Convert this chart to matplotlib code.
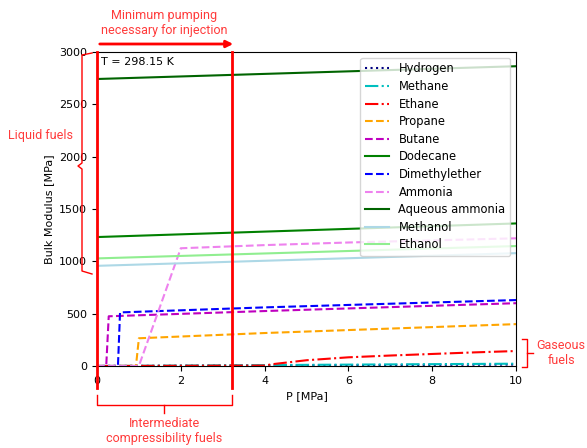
import matplotlib
matplotlib.use('Agg')
import matplotlib.pyplot as plt
from matplotlib.lines import Line2D
from matplotlib.patches import FancyArrowPatch

# Bulk modulus [MPa] vs pressure [MPa] at T = 298.15 K
p_hydrogen = [0, 10]
k_hydrogen = [0, 14]
p_methane = [0, 10]
k_methane = [0, 22]
p_ethane = [0, 4.0, 4.2, 5, 6, 7, 8, 9, 10]
k_ethane = [0, 4, 18, 55, 83, 100, 115, 130, 143]
p_propane = [0, 0.93, 1.0, 4, 10]
k_propane = [0, 1, 265, 315, 400]
p_butane = [0, 0.22, 0.28, 4, 10]
k_butane = [0, 0.3, 475, 525, 600]
p_dodecane = [0, 10]
k_dodecane = [1232, 1362]
p_dme = [0, 0.5, 0.55, 4, 10]
k_dme = [0, 0.5, 512, 560, 630]
p_ammonia = [0, 1.0, 2.0, 4, 6, 8, 10]
k_ammonia = [0, 1, 1125, 1155, 1180, 1200, 1220]
p_aq_ammonia = [0, 10]
k_aq_ammonia = [2742, 2864]
p_methanol = [0, 10]
k_methanol = [957, 1078]
p_ethanol = [0, 10]
k_ethanol = [1028, 1146]

series = [
    ('Hydrogen', p_hydrogen, k_hydrogen, 'navy', ':'),
    ('Methane', p_methane, k_methane, 'c', '-.'),
    ('Ethane', p_ethane, k_ethane, 'r', '-.'),
    ('Propane', p_propane, k_propane, 'orange', '--'),
    ('Butane', p_butane, k_butane, 'm', '--'),
    ('Dodecane', p_dodecane, k_dodecane, 'green', '-'),
    ('Dimethylether', p_dme, k_dme, 'b', '--'),
    ('Ammonia', p_ammonia, k_ammonia, 'violet', '--'),
    ('Aqueous ammonia', p_aq_ammonia, k_aq_ammonia, 'darkgreen', '-'),
    ('Methanol', p_methanol, k_methanol, 'lightblue', '-'),
    ('Ethanol', p_ethanol, k_ethanol, 'lightgreen', '-'),
]

p_min_pump = 3.22  # minimum pumping pressure marker

W, H = 587, 448
fig = plt.figure(figsize=(W / 100, H / 100), dpi=100)
ax = fig.add_axes([97 / W, 1 - 366 / H, (516 - 97) / W, (366 - 52) / H])

for name, p, k, col, ls in series:
    ax.plot(p, k, color=col, linestyle=ls, linewidth=1.5, label=name)

ax.set_xlim(0, 10)
ax.set_ylim(0, 3000)
ax.set_xticks([0, 2, 4, 6, 8, 10])
ax.set_yticks([0, 500, 1000, 1500, 2000, 2500, 3000])
ax.tick_params(labelsize=8)
ax.set_xlabel('P [MPa]', fontsize=8)
ax.set_ylabel('Bulk Modulus [MPa]', fontsize=8)
ax.text(0.01, 0.985, 'T = 298.15 K', transform=ax.transAxes, fontsize=8,
        va='top', ha='left')
ax.legend(loc='upper right', fontsize=8.3, labelspacing=0.4, handlelength=2.1)

# red vertical markers
for xv in [0, p_min_pump]:
    ax.plot([xv, xv], [3000, -210], color='red', linewidth=2, clip_on=False, zorder=10)


# annotations in figure pixel coordinates
def fx(x):
    return x / W


def fy(y):
    return 1 - y / H


red = 'red'
txt_col = '#ff3b3b'
font = 'Roboto'


def poly(xs, ys, lw=1.0):
    fig.add_artist(Line2D([fx(x) for x in xs], [fy(y) for y in ys],
                          color=red, linewidth=lw, transform=fig.transFigure))


# top arrow
fig.add_artist(FancyArrowPatch(
    (fx(97), fy(44)), (fx(236), fy(44)), transform=fig.transFigure,
    arrowstyle='-|>', mutation_scale=10, color=red, linewidth=2))
fig.text(fx(164), fy(23), 'Minimum pumping\nnecessary for injection', ha='center',
         va='center', fontsize=9, color=txt_col, family=font, linespacing=1.2)

# bottom bracket
poly([97, 97, 232, 232], [395, 405, 405, 395])
poly([164, 164], [405, 413])
fig.text(fx(164), fy(431), 'Intermediate\ncompressibility fuels', ha='center',
         va='center', fontsize=9, color=txt_col, family=font, linespacing=1.2)

# left brace
poly([92, 82, 82, 78, 82, 82, 92], [53, 55, 163, 166, 169, 271, 274])
fig.text(fx(40), fy(135), 'Liquid fuels', ha='center', va='center',
         fontsize=9, color=txt_col, family=font)

# right brace
poly([522, 527, 527, 522], [339, 339, 367, 367])
poly([527, 533], [353, 353])
fig.text(fx(561), fy(353), 'Gaseous\nfuels', ha='center', va='center',
         fontsize=9, color=txt_col, family=font, linespacing=1.2)

fig.savefig('out.png', dpi=100)
